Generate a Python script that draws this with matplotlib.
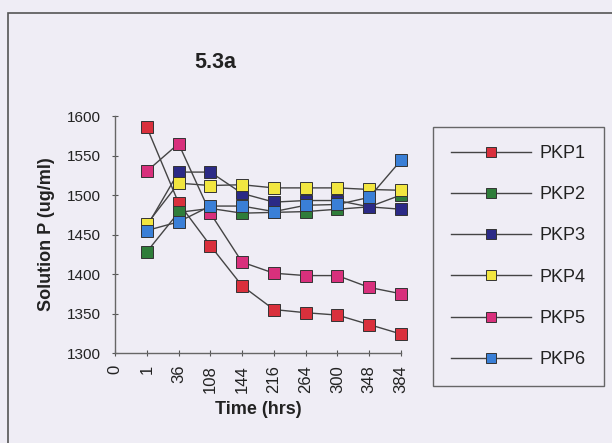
import matplotlib
matplotlib.use("Agg")
import matplotlib.pyplot as plt
from matplotlib.patches import Rectangle
from matplotlib.lines import Line2D

plt.rcParams['font.family'] = ['Liberation Sans', 'DejaVu Sans']

categories = ["0", "1", "36", "108", "144", "216", "264", "300", "348", "384"]
data_categories = ["1", "36", "108", "144", "216", "264", "300", "348", "384"]

series_names = ["PKP1", "PKP2", "PKP3", "PKP4", "PKP5", "PKP6"]
pkp1 = [1586, 1490, 1436, 1385, 1355, 1351, 1348, 1336, 1324]
pkp2 = [1428, 1478, 1483, 1477, 1478, 1479, 1482, 1485, 1500]
pkp3 = [1460, 1529, 1529, 1502, 1491, 1493, 1493, 1485, 1482]
pkp4 = [1463, 1515, 1512, 1513, 1509, 1509, 1509, 1507, 1506]
pkp5 = [1530, 1565, 1477, 1415, 1401, 1398, 1398, 1383, 1375]
pkp6 = [1455, 1466, 1486, 1486, 1479, 1487, 1488, 1497, 1544]
series_values = [pkp1, pkp2, pkp3, pkp4, pkp5, pkp6]
colors = ["#d9303c", "#2f7d3a", "#2b2a86", "#f2e640", "#d8307c", "#3a7fd6"]

y_ticks = [1300, 1350, 1400, 1450, 1500, 1550, 1600]

bg = "#efedf5"
fig = plt.figure(figsize=(6.12, 4.43), dpi=100, facecolor=bg)

# outer frame
fig.patches.append(Rectangle((8 / 612, -0.05), 1.05, 1 - 13 / 443 + 0.05,
                             transform=fig.transFigure, fill=False,
                             edgecolor="#555555", linewidth=1.2))

ax = fig.add_axes([115 / 612, 1 - 353 / 443, (401 - 115) / 612, (353 - 116) / 443])
ax.set_facecolor(bg)

xpos = {c: i for i, c in enumerate(categories)}
xs = [xpos[c] for c in data_categories]
for name, vals, col in zip(series_names, series_values, colors):
    ax.plot(xs, vals, color="#444444", linewidth=1.0, marker="s", markersize=8,
            markerfacecolor=col, markeredgecolor="#333333", markeredgewidth=0.7,
            label=name, clip_on=False)

ax.set_xlim(0, len(categories) - 1)
ax.set_ylim(1300, 1600)
ax.set_xticks(range(len(categories)))
ax.set_xticklabels(categories, rotation=90, fontsize=12)
ax.set_yticks(y_ticks)
ax.set_yticklabels([str(v) for v in y_ticks], fontsize=11)
ax.tick_params(axis='both', direction='inout', length=5, width=0.8, colors="#555555",
               labelcolor="#222222")
ax.tick_params(axis='y', pad=8)
ax.tick_params(axis='x', pad=6)
for s in ["top", "right"]:
    ax.spines[s].set_visible(False)
for s in ["left", "bottom"]:
    ax.spines[s].set_color("#666666")
    ax.spines[s].set_linewidth(1.0)

ax.set_xlabel("Time (hrs)", fontsize=13, fontweight="bold", color="#222222", labelpad=6)
ax.set_ylabel("Solution P (ug/ml)", fontsize=13, fontweight="bold", color="#222222", labelpad=8)

fig.text(215 / 612, 1 - 62 / 443, "5.3a", fontsize=15.5, fontweight="bold",
         ha="center", va="center", color="#222222")

handles = [Line2D([0], [0], color="#444444", linewidth=1.0, marker="s", markersize=7,
                  markerfacecolor=c, markeredgecolor="#333333", markeredgewidth=0.7)
           for c in colors]
leg = fig.legend(handles, series_names, loc="upper left",
                 bbox_to_anchor=(433 / 612, 1 - 127 / 443),
                 bbox_transform=fig.transFigure, frameon=True, fancybox=False,
                 fontsize=13, handlelength=4.4, handletextpad=0.5,
                 labelspacing=1.34, borderpad=1.0, borderaxespad=0)
leg.get_frame().set_edgecolor("#444444")
leg.get_frame().set_linewidth(1.0)
leg.get_frame().set_facecolor(bg)
for t in leg.get_texts():
    t.set_color("#222222")

fig.savefig("out.png", dpi=100, facecolor=bg)
